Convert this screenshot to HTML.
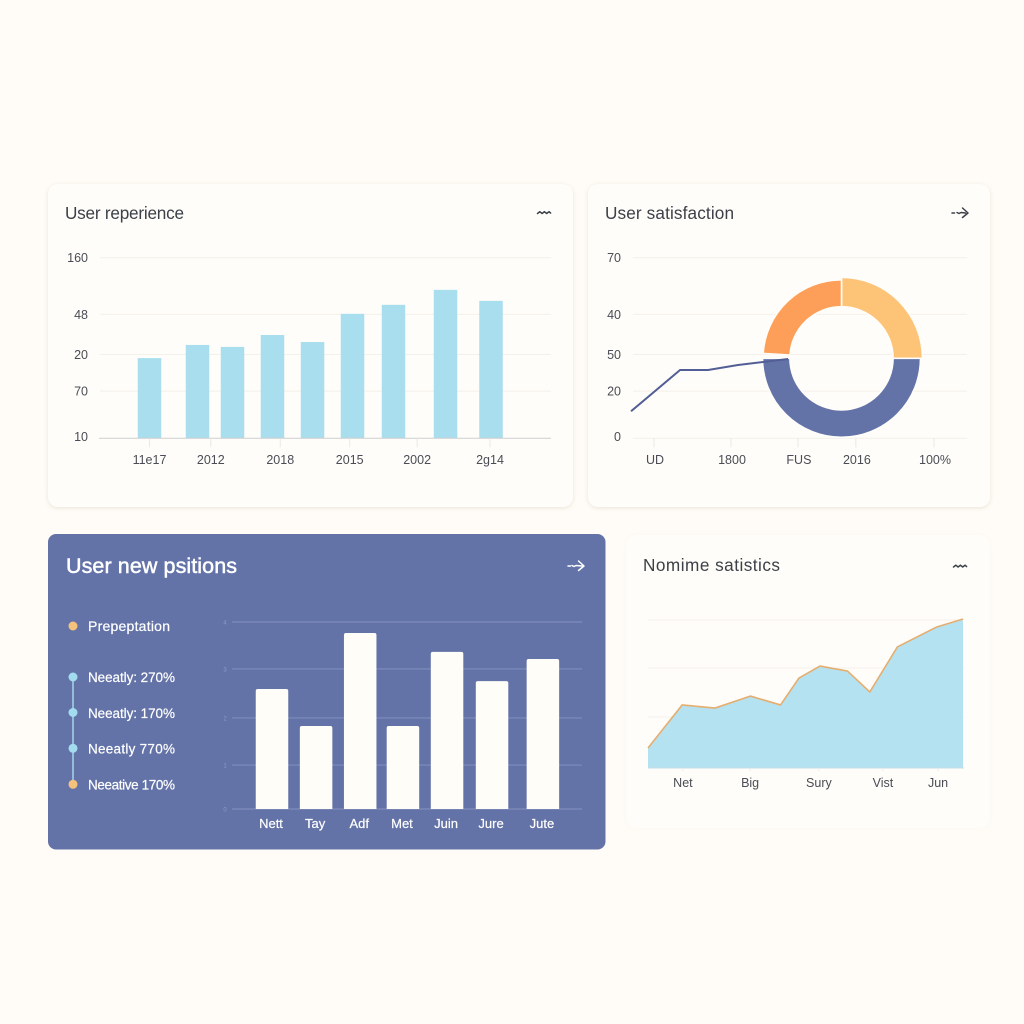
<!DOCTYPE html>
<html lang="en">
<head>
<meta charset="utf-8">
<title>Dashboard</title>
<style>
html,body{margin:0;padding:0;background:#fffcf7;width:1024px;height:1024px;overflow:hidden}
svg{display:block;font-family:"Liberation Sans",sans-serif}
.card{fill:#fffdf9;filter:drop-shadow(0 1px 2.5px rgba(120,100,70,.16))}
.title{font-size:17.2px;fill:#3c4048}
.tick{font-size:12.5px;fill:#4a4d55}
.tick-d{font-size:13px;fill:#fff;stroke:#fff;stroke-width:.2}
.legend{font-size:13.5px;fill:#fff;stroke:#fff;stroke-width:.2}
.grid{stroke:#f4f0ea;stroke-width:1}
.icon{fill:none;stroke:#3c4048;stroke-width:1.5;stroke-linecap:round;stroke-linejoin:round}
</style>
</head>
<body>
<svg id="root" width="1024" height="1024" viewBox="0 0 1024 1024" xmlns="http://www.w3.org/2000/svg">
  <rect width="1024" height="1024" fill="#fffcf7"/>

  <rect class="card" x="48" y="184" width="525" height="323" rx="10"/>
  <rect class="card" x="588" y="184" width="402" height="323" rx="10"/>
  <rect x="48" y="534" width="557.5" height="315.5" rx="8" fill="#6373a8"/>
  <rect x="626" y="535" width="364" height="293" rx="10" fill="#fffdf9" style="filter:drop-shadow(0 0 1.5px rgba(120,100,70,.05))"/>

  <text class="title" x="65" y="219" textLength="119">User reperience</text>
  <text class="title" x="605" y="219" textLength="129">User satisfaction</text>
  <text x="66" y="573" font-size="21.5" fill="#fff" stroke="#fff" stroke-width=".5" textLength="171">User new psitions</text>
  <text class="title" x="643" y="571" textLength="137">Nomime satistics</text>

  <path class="icon" d="M537.5 213.5l2.3-1.800 2.3 1.800 2.3-1.800 2.3 1.800 2.3-1.800 1.600 1.400"/>
  <path class="icon" d="M952 213h2.500M957 212.500l2 1 2-1 4.500 .5M962.500 208l5.500 5-5.500 4.500"/>
  <path class="icon" style="stroke:#fff" d="M568 566h2.500M572 565.500l2 1 2-1 6 .5M578.500 561l5.500 5-5.500 4.500"/>
  <path class="icon" d="M953.500 567l2.300-1.800 2.300 1.800 2.300-1.800 2.300 1.800 2.300-1.800 1.600 1.400"/>

  <g id="experience-chart"></g>
  <g id="satisfaction-chart"></g>
  <g id="positions-chart"></g>
  <g id="statistics-chart"></g>

  <g>
    <line x1="73" y1="677" x2="73" y2="784" stroke="#a5d6ea" stroke-width="1.5"/>
    <circle cx="73" cy="626" r="4.500" fill="#f5c27c"/>
    <circle cx="73" cy="677" r="4.500" fill="#a3dcee"/>
    <circle cx="73" cy="712.500" r="4.500" fill="#a3dcee"/>
    <circle cx="73" cy="748.300" r="4.500" fill="#a3dcee"/>
    <circle cx="73" cy="784.300" r="4.500" fill="#f5c27c"/>
    <text class="legend" x="88" y="631" textLength="82" style="font-size:14px">Prepeptation</text>
    <text class="legend" x="88" y="682" textLength="87">Neeatly: 270%</text>
    <text class="legend" x="88" y="718" textLength="87">Neeatly: 170%</text>
    <text class="legend" x="88" y="753.500" textLength="87">Neeatly 770%</text>
    <text class="legend" x="88" y="789.500" textLength="87">Neeative 170%</text>
  </g>
</svg>

<script>
// Chart 1: experience bars
const expBarValues = [44.4, 51.7, 50.6, 57.2, 53.3, 68.9, 73.9, 82.2, 76.1];
const expBarPositions = [0, 0.705, 1.219, 1.806, 2.394, 2.981, 3.583, 4.347, 5.015];
const expGridValues = [100, 68.6, 46.4, 26.1, 0];
const expYLabels = ['160', '48', '20', '70', '10'];
const expXLabels = ['11e17', '2012', '2018', '2015', '2002', '2g14'];
const expXTicks = [0, 0.9, 1.92, 2.94, 3.93, 5];

// Chart 2: satisfaction line + donut
const satLinePositions = [-8.2, 9.3, 19.3, 30, 47.9];
const satLineValues = [15, 37.8, 37.8, 40.6, 43.9];
const satGridValues = [100, 68.6, 46.4, 26.1, 0];
const satYLabels = ['70', '40', '50', '20', '0'];
const satXLabels = ['UD', '1800', 'FUS', '2016', '100%'];
const satXTicks = [0, 27.5, 51.4, 72.1, 100];
const donutValues = [25, 50, 1, 24];
const donutNames = ['light-orange', 'blue', 'gap', 'orange'];

// Chart 3: positions bars
const posBarValues = [64.2, 44.4, 94.1, 44.4, 84, 68.4, 80.2];
const posBarPositions = [0, 0.98, 1.96, 2.91, 3.89, 4.89, 6.02];
const posGridValues = [100, 74.9, 48.7, 23.5, 0];
const posYLabels = ['4', '3', '2', '1', '0'];
const posXLabels = ['Nett', 'Tay', 'Adf', 'Met', 'Juin', 'Jure', 'Jute'];

// Chart 4: statistics area
const statPositions = [0, 1.3, 2.55, 3.9, 5.05, 5.75, 6.55, 7.6, 8.45, 9.5, 11, 12];
const statValues = [13.5, 42.6, 40.5, 48.6, 42.6, 60.8, 68.9, 65.5, 51.4, 81.8, 95.3, 100.7];
const statGridValues = [100, 67.6, 34.5];
const statXLabels = ['Net', 'Big', 'Sury', 'Vist', 'Jun'];
const statXTicks = [1.33, 3.89, 6.51, 8.95, 11.05];

const NS = 'http://www.w3.org/2000/svg';
function make(parent, tag, attrs, text) {
  const el = document.createElementNS(NS, tag);
  for (const k in attrs) el.setAttribute(k, attrs[k]);
  if (text !== undefined) el.textContent = text;
  parent.appendChild(el);
  return el;
}
function linear(d0, d1, r0, r1) {
  return v => r0 + (v - d0) * (r1 - r0) / (d1 - d0);
}

/* Chart 1 */
(function () {
  const g = document.getElementById('experience-chart');
  const x = linear(0, 5, 149.5, 490);
  const y = linear(0, 100, 438.3, 257.7);
  const barW = 23.5;
  expGridValues.forEach((v, i) => {
    if (v !== 0) {
      const ln = make(g, 'line', {class: 'grid', x1: 100, x2: 551, y1: y(v), y2: y(v)});
      
      
    }
    const t = make(g, 'text', {class: 'tick', x: 88, y: y(v) + (v === 0 ? 2.5 : 4.5), 'text-anchor': 'end'}, expYLabels[i]);
    
    
  });
  expBarValues.forEach((v, i) => {
    const b = make(g, 'rect', {x: x(expBarPositions[i]) - barW / 2, y: y(v), width: barW, height: y(0) - y(v), fill: '#a8deed'});
    
    
  });
  const base = make(g, 'line', {x1: 99, x2: 551, y1: y(0), y2: y(0), stroke: '#cfcfd0', 'stroke-width': 1});
  
  
  expXTicks.forEach((v, i) => {
    const m = make(g, 'line', {x1: x(v), x2: x(v), y1: y(0), y2: y(0) + 9, stroke: '#ebe9e6'});
    
    
    const t = make(g, 'text', {class: 'tick', x: x(v), y: 464, 'text-anchor': 'middle'}, expXLabels[i]);
    
    
  });
})();

/* Chart 2 */
(function () {
  const g = document.getElementById('satisfaction-chart');
  const x = linear(0, 100, 654, 934);
  const y = linear(0, 100, 438.3, 257.7);
  satGridValues.forEach((v, i) => {
    const ln = make(g, 'line', {class: 'grid', x1: 633, x2: 967, y1: y(v), y2: y(v)});
    
    
    const t = make(g, 'text', {class: 'tick', x: 621, y: y(v) + (v === 0 ? 2.5 : 4.5), 'text-anchor': 'end'}, satYLabels[i]);
    
    
  });
  satXTicks.forEach((v, i) => {
    const m = make(g, 'line', {x1: x(v), x2: x(v), y1: y(0), y2: y(0) + 9, stroke: '#ebe9e6'});
    
    
    const t = make(g, 'text', {class: 'tick', x: x(v) + 1, y: 464, 'text-anchor': 'middle'}, satXLabels[i]);
    
    
  });
  // donut
  const cx = 841.5, cy = 358.3, rIn = 51.6;
  const outer = {'light-orange': 81, 'blue': 79, 'gap': 79, 'orange': 78.5};
  const colors = {'light-orange': '#fdc477', 'blue': '#6373a8', 'orange': '#fd9f58'};
  const total = donutValues.reduce((a, b) => a + b, 0);
  let acc = 0;
  donutValues.forEach((v, i) => {
    const a0 = acc / total * 2 * Math.PI - Math.PI / 2;
    acc += v;
    const a1 = acc / total * 2 * Math.PI - Math.PI / 2;
    const name = donutNames[i];
    if (name === 'gap') return;
    const rOut = outer[name];
    const pt = (r, a) => (cx + r * Math.cos(a)).toFixed(2) + ' ' + (cy + r * Math.sin(a)).toFixed(2);
    const large = a1 - a0 > Math.PI ? 1 : 0;
    const d = 'M' + pt(rOut, a0) + 'A' + rOut + ' ' + rOut + ' 0 ' + large + ' 1 ' + pt(rOut, a1) +
      'L' + pt(rIn, a1) + 'A' + rIn + ' ' + rIn + ' 0 ' + large + ' 0 ' + pt(rIn, a0) + 'Z';
    const s = make(g, 'path', {d: d, fill: colors[name], stroke: '#fffdf9', 'stroke-width': 1.6});
    
    
  });
  const pts = satLineValues.map((v, i) => x(satLinePositions[i]) + ',' + y(v)).join(' ');
  const line = make(g, 'polyline', {points: pts, fill: 'none', stroke: '#525e96', 'stroke-width': 2, 'stroke-linejoin': 'round'});
  
  
})();

/* Chart 3 */
(function () {
  const g = document.getElementById('positions-chart');
  const x = linear(0, 1, 272, 317);
  const y = linear(0, 100, 809, 622);
  const barW = 32.5;
  posGridValues.forEach((v, i) => {
    const ln = make(g, 'line', {x1: 232, x2: 582, y1: y(v), y2: y(v), stroke: '#7f8cbb', 'stroke-width': 1.2});
    
    
    const t = make(g, 'text', {x: 225, y: y(v) + 2.5, 'font-size': 6, fill: '#8f9ac2', 'text-anchor': 'middle'}, posYLabels[i]);
    
    
  });
  posBarValues.forEach((v, i) => {
    const b = make(g, 'path', {
      d: 'M' + (x(posBarPositions[i]) - barW / 2) + ' ' + y(0) + 'V' + (y(v) + 2) + 'q0 -2 2 -2H' + (x(posBarPositions[i]) + barW / 2 - 2) + 'q2 0 2 2V' + y(0) + 'Z',
      fill: '#fffdf8'
    });
    
    
    const t = make(g, 'text', {class: 'tick-d', x: x(posBarPositions[i]) - 1, y: 828, 'text-anchor': 'middle'}, posXLabels[i]);
    
    
  });
})();

/* Chart 4 */
(function () {
  const g = document.getElementById('statistics-chart');
  const x = linear(0, 12, 648, 963);
  const y = linear(0, 100, 768, 620);
  statGridValues.forEach(v => {
    const ln = make(g, 'line', {class: 'grid', x1: 648, x2: 964, y1: y(v), y2: y(v)});
    
    
  });
  const pts = statValues.map((v, i) => x(statPositions[i]) + ',' + y(v));
  const area = make(g, 'polygon', {points: x(statPositions[0]) + ',' + y(0) + ' ' + pts.join(' ') + ' ' + x(statPositions[statPositions.length - 1]) + ',' + y(0), fill: '#b5e2f0'});
  
  
  const line = make(g, 'polyline', {points: pts.join(' '), fill: 'none', stroke: '#e5ae70', 'stroke-width': 1.6, 'stroke-linejoin': 'round'});
  
  
  const base = make(g, 'line', {x1: 648, x2: 964, y1: y(0), y2: y(0), stroke: '#c5dde5'});
  
  
  statXTicks.forEach((v, i) => {
    const m = make(g, 'line', {x1: x(v), x2: x(v), y1: y(0), y2: y(0) + 3, stroke: '#ebe9e6'});
    
    
    const t = make(g, 'text', {class: 'tick', x: x(v), y: 787, 'text-anchor': 'middle'}, statXLabels[i]);
    
    
  });
})();
</script>
</body>
</html>
